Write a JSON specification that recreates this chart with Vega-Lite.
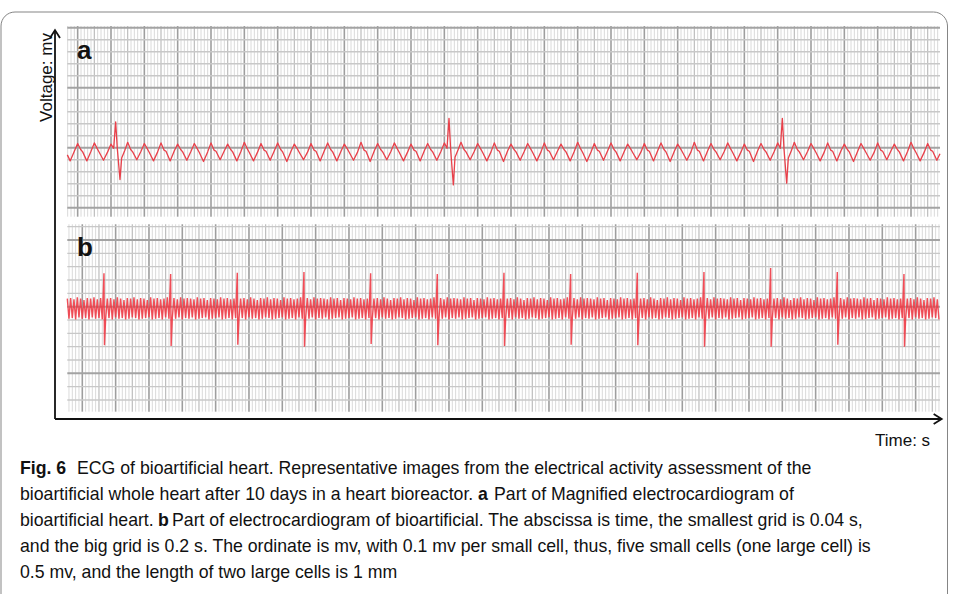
{
  "$schema": "https://vega.github.io/schema/vega-lite/v6.json",
  "width": 956,
  "height": 594,
  "autosize": {"type": "none"},
  "padding": 0,
  "background": "white",
  "config": {"view": {"stroke": null}, "text": {"font": "Liberation Sans", "color": "#111111"}},
  "datasets": {
    "vgrid": [-80,-60,-40,-20,0,20,40,60,80,100,120,140,160,180,200,220,240,260,280,300,320,340,360,380,400,420,440,460,480,500,520,540,560,580,600,620,640,660,680,700,720,740,760,780,800,820,840,860,880,900,920,940,960,980,1000,1020,1040,1060,1080,1100,1120,1140,1160,1180,1200,1220,1240,1260,1280,1300,1320,1340,1360,1380,1400,1420,1440,1460,1480,1500,1520,1540,1560,1580,1600,1620,1640,1660,1680,1700,1720,1740,1760,1780,1800,1820,1840,1860,1880,1900,1920,1940,1960,1980,2000,2020,2040,2060,2080,2100,2120,2140,2160,2180,2200,2220,2240,2260,2280,2300,2320,2340,2360,2380,2400,2420,2440,2460,2480,2500,2520,2540,2560,2580,2600,2620,2640,2660,2680,2700,2720,2740,2760,2780,2800,2820,2840,2860,2880,2900,2920,2940,2960,2980,3000,3020,3040,3060,3080,3100,3120,3140,3160,3180,3200,3220,3240,3260,3280,3300,3320,3340,3360,3380,3400,3420,3440,3460,3480,3500,3520,3540,3560,3580,3600,3620,3640,3660,3680,3700,3720,3740,3760,3780,3800,3820,3840,3860,3880,3900,3920,3940,3960,3980,4000,4020,4040,4060,4080,4100,4120,4140,4160,4180,4200,4220,4240,4260,4280,4300,4320,4340,4360,4380,4400,4420,4440,4460,4480,4500,4520,4540,4560,4580,4600,4620,4640,4660,4680,4700,4720,4740,4760,4780,4800,4820,4840,4860,4880,4900,4920,4940,4960,4980,5000,5020,5040,5060,5080,5100,5120,5140,5160],
    "hgridA": [-0.5,-0.4,-0.3,-0.2,-0.1,0,0.1,0.2,0.3,0.4,0.5,0.6,0.7,0.8,0.9,1.0],
    "hgridB": [-0.7,-0.6,-0.5,-0.4,-0.3,-0.2,-0.1,0,0.1,0.2,0.3,0.4,0.5,0.6],
    "ecgA": [
      {"t":-62,"v":-0.06},{"t":-45,"v":-0.11},{"t":-20,"v":-0.03},
      {"t":0,"v":0.035},{"t":18,"v":-0.015},{"t":30,"v":-0.035},{"t":55,"v":-0.11},{"t":80,"v":-0.03},
      {"t":100,"v":0.04},{"t":118,"v":-0.01},{"t":130,"v":-0.04},{"t":155,"v":-0.105},{"t":180,"v":-0.035},
      {"t":200,"v":0.03},{"t":216,"v":-0.005},{"t":228,"v":0.215},{"t":238,"v":-0.01},{"t":254,"v":-0.265},{"t":264,"v":-0.085},{"t":282,"v":-0.025},
      {"t":300,"v":0.045},{"t":318,"v":-0.015},{"t":330,"v":-0.035},{"t":355,"v":-0.1},{"t":380,"v":-0.03},
      {"t":400,"v":0.035},{"t":418,"v":-0.01},{"t":430,"v":-0.04},{"t":455,"v":-0.11},{"t":480,"v":-0.035},
      {"t":500,"v":0.04},{"t":518,"v":-0.02},{"t":530,"v":-0.03},{"t":555,"v":-0.11},{"t":580,"v":-0.025},
      {"t":600,"v":0.03},{"t":618,"v":-0.015},{"t":630,"v":-0.035},{"t":655,"v":-0.105},{"t":680,"v":-0.03},
      {"t":700,"v":0.035},{"t":718,"v":-0.01},{"t":730,"v":-0.04},{"t":755,"v":-0.115},{"t":780,"v":-0.035},
      {"t":800,"v":0.04},{"t":818,"v":-0.02},{"t":830,"v":-0.03},{"t":855,"v":-0.1},{"t":880,"v":-0.025},
      {"t":900,"v":0.03},{"t":918,"v":-0.015},{"t":930,"v":-0.035},{"t":955,"v":-0.11},{"t":980,"v":-0.03},
      {"t":1000,"v":0.045},{"t":1018,"v":-0.01},{"t":1030,"v":-0.04},{"t":1055,"v":-0.11},{"t":1080,"v":-0.035},
      {"t":1100,"v":0.035},{"t":1118,"v":-0.02},{"t":1130,"v":-0.03},{"t":1155,"v":-0.105},{"t":1180,"v":-0.025},
      {"t":1200,"v":0.04},{"t":1218,"v":-0.015},{"t":1230,"v":-0.035},{"t":1255,"v":-0.115},{"t":1280,"v":-0.03},
      {"t":1300,"v":0.03},{"t":1318,"v":-0.01},{"t":1330,"v":-0.04},{"t":1355,"v":-0.1},{"t":1380,"v":-0.035},
      {"t":1400,"v":0.035},{"t":1418,"v":-0.02},{"t":1430,"v":-0.03},{"t":1455,"v":-0.11},{"t":1480,"v":-0.025},
      {"t":1500,"v":0.04},{"t":1518,"v":-0.015},{"t":1530,"v":-0.035},{"t":1555,"v":-0.11},{"t":1580,"v":-0.03},
      {"t":1600,"v":0.03},{"t":1618,"v":-0.01},{"t":1630,"v":-0.04},{"t":1655,"v":-0.105},{"t":1680,"v":-0.035},
      {"t":1700,"v":0.045},{"t":1718,"v":-0.02},{"t":1730,"v":-0.03},{"t":1755,"v":-0.115},{"t":1780,"v":-0.025},
      {"t":1800,"v":0.035},{"t":1818,"v":-0.015},{"t":1830,"v":-0.035},{"t":1855,"v":-0.1},{"t":1880,"v":-0.03},
      {"t":1900,"v":0.04},{"t":1918,"v":-0.01},{"t":1930,"v":-0.04},{"t":1955,"v":-0.11},{"t":1980,"v":-0.035},
      {"t":2000,"v":0.03},{"t":2018,"v":-0.02},{"t":2030,"v":-0.03},{"t":2055,"v":-0.11},{"t":2080,"v":-0.025},
      {"t":2100,"v":0.035},{"t":2118,"v":-0.015},{"t":2130,"v":-0.035},{"t":2155,"v":-0.105},{"t":2180,"v":-0.03},
      {"t":2200,"v":0.04},{"t":2216,"v":-0.005},{"t":2228,"v":0.245},{"t":2238,"v":-0.015},{"t":2254,"v":-0.31},{"t":2264,"v":-0.08},{"t":2282,"v":-0.02},
      {"t":2300,"v":0.045},{"t":2318,"v":-0.015},{"t":2330,"v":-0.035},{"t":2355,"v":-0.1},{"t":2380,"v":-0.03},
      {"t":2400,"v":0.035},{"t":2418,"v":-0.01},{"t":2430,"v":-0.04},{"t":2455,"v":-0.11},{"t":2480,"v":-0.035},
      {"t":2500,"v":0.04},{"t":2518,"v":-0.02},{"t":2530,"v":-0.03},{"t":2555,"v":-0.115},{"t":2580,"v":-0.025},
      {"t":2600,"v":0.03},{"t":2618,"v":-0.015},{"t":2630,"v":-0.035},{"t":2655,"v":-0.105},{"t":2680,"v":-0.03},
      {"t":2700,"v":0.035},{"t":2718,"v":-0.01},{"t":2730,"v":-0.04},{"t":2755,"v":-0.11},{"t":2780,"v":-0.035},
      {"t":2800,"v":0.04},{"t":2818,"v":-0.02},{"t":2830,"v":-0.03},{"t":2855,"v":-0.1},{"t":2880,"v":-0.025},
      {"t":2900,"v":0.03},{"t":2918,"v":-0.015},{"t":2930,"v":-0.035},{"t":2955,"v":-0.11},{"t":2980,"v":-0.03},
      {"t":3000,"v":0.045},{"t":3018,"v":-0.01},{"t":3030,"v":-0.04},{"t":3055,"v":-0.115},{"t":3080,"v":-0.035},
      {"t":3100,"v":0.035},{"t":3118,"v":-0.02},{"t":3130,"v":-0.03},{"t":3155,"v":-0.105},{"t":3180,"v":-0.025},
      {"t":3200,"v":0.04},{"t":3218,"v":-0.015},{"t":3230,"v":-0.035},{"t":3255,"v":-0.11},{"t":3280,"v":-0.03},
      {"t":3300,"v":0.03},{"t":3318,"v":-0.01},{"t":3330,"v":-0.04},{"t":3355,"v":-0.1},{"t":3380,"v":-0.035},
      {"t":3400,"v":0.035},{"t":3418,"v":-0.02},{"t":3430,"v":-0.03},{"t":3455,"v":-0.11},{"t":3480,"v":-0.025},
      {"t":3500,"v":0.04},{"t":3518,"v":-0.015},{"t":3530,"v":-0.035},{"t":3555,"v":-0.115},{"t":3580,"v":-0.03},
      {"t":3600,"v":0.03},{"t":3618,"v":-0.01},{"t":3630,"v":-0.04},{"t":3655,"v":-0.105},{"t":3680,"v":-0.035},
      {"t":3700,"v":0.045},{"t":3718,"v":-0.02},{"t":3730,"v":-0.03},{"t":3755,"v":-0.11},{"t":3780,"v":-0.025},
      {"t":3800,"v":0.035},{"t":3818,"v":-0.015},{"t":3830,"v":-0.035},{"t":3855,"v":-0.1},{"t":3880,"v":-0.03},
      {"t":3900,"v":0.04},{"t":3918,"v":-0.01},{"t":3930,"v":-0.04},{"t":3955,"v":-0.11},{"t":3980,"v":-0.035},
      {"t":4000,"v":0.03},{"t":4018,"v":-0.02},{"t":4030,"v":-0.03},{"t":4055,"v":-0.115},{"t":4080,"v":-0.025},
      {"t":4100,"v":0.035},{"t":4118,"v":-0.015},{"t":4130,"v":-0.035},{"t":4155,"v":-0.105},{"t":4180,"v":-0.03},
      {"t":4200,"v":0.04},{"t":4216,"v":-0.005},{"t":4228,"v":0.245},{"t":4238,"v":-0.01},{"t":4254,"v":-0.295},{"t":4264,"v":-0.085},{"t":4282,"v":-0.025},
      {"t":4300,"v":0.045},{"t":4318,"v":-0.015},{"t":4330,"v":-0.035},{"t":4355,"v":-0.1},{"t":4380,"v":-0.03},
      {"t":4400,"v":0.035},{"t":4418,"v":-0.01},{"t":4430,"v":-0.04},{"t":4455,"v":-0.11},{"t":4480,"v":-0.035},
      {"t":4500,"v":0.04},{"t":4518,"v":-0.02},{"t":4530,"v":-0.03},{"t":4555,"v":-0.11},{"t":4580,"v":-0.025},
      {"t":4600,"v":0.03},{"t":4618,"v":-0.015},{"t":4630,"v":-0.035},{"t":4655,"v":-0.115},{"t":4680,"v":-0.03},
      {"t":4700,"v":0.035},{"t":4718,"v":-0.01},{"t":4730,"v":-0.04},{"t":4755,"v":-0.105},{"t":4780,"v":-0.035},
      {"t":4800,"v":0.04},{"t":4818,"v":-0.02},{"t":4830,"v":-0.03},{"t":4855,"v":-0.1},{"t":4880,"v":-0.025},
      {"t":4900,"v":0.03},{"t":4918,"v":-0.015},{"t":4930,"v":-0.035},{"t":4955,"v":-0.11},{"t":4980,"v":-0.03},
      {"t":5000,"v":0.045},{"t":5018,"v":-0.01},{"t":5030,"v":-0.04},{"t":5055,"v":-0.11},{"t":5080,"v":-0.035},
      {"t":5100,"v":0.035},{"t":5118,"v":-0.02},{"t":5130,"v":-0.03},{"t":5155,"v":-0.105},{"t":5174,"v":-0.05}
    ],
    "ecgB": [
      {"t":-90,"v":0.06},{"t":-80,"v":-0.09},{"t":-70,"v":0.065},{"t":-60,"v":-0.085},{"t":-50,"v":0.055},{"t":-40,"v":-0.095},{"t":-30,"v":0.07},{"t":-20,"v":-0.08},{"t":-10,"v":0.06},{"t":0,"v":-0.09},{"t":10,"v":0.05},{"t":20,"v":-0.085},{"t":30,"v":0.065},{"t":40,"v":-0.095},{"t":50,"v":0.06},{"t":60,"v":-0.08},{"t":70,"v":0.07},{"t":80,"v":-0.09},{"t":90,"v":0.055},{"t":100,"v":-0.085},{"t":110,"v":0.065},{"t":120,"v":-0.095},
      {"t":130,"v":0.25},{"t":133,"v":-0.29},
      {"t":140,"v":-0.09},{"t":150,"v":0.06},{"t":160,"v":-0.085},{"t":170,"v":0.065},{"t":180,"v":-0.095},{"t":190,"v":0.055},{"t":200,"v":-0.08},{"t":210,"v":0.07},{"t":220,"v":-0.09},{"t":230,"v":0.06},{"t":240,"v":-0.085},{"t":250,"v":0.05},{"t":260,"v":-0.095},{"t":270,"v":0.065},{"t":280,"v":-0.09},{"t":290,"v":0.06},{"t":300,"v":-0.08},{"t":310,"v":0.07},{"t":320,"v":-0.085},{"t":330,"v":0.055},{"t":340,"v":-0.095},{"t":350,"v":0.065},{"t":360,"v":-0.09},{"t":370,"v":0.06},{"t":380,"v":-0.085},{"t":390,"v":0.05},{"t":400,"v":-0.08},{"t":410,"v":0.07},{"t":420,"v":-0.095},{"t":430,"v":0.06},{"t":440,"v":-0.09},{"t":450,"v":0.065},{"t":460,"v":-0.085},{"t":470,"v":0.055},{"t":480,"v":-0.095},{"t":490,"v":0.06},{"t":500,"v":-0.08},{"t":510,"v":0.07},{"t":520,"v":-0.09},
      {"t":530,"v":0.245},{"t":533,"v":-0.295},
      {"t":540,"v":-0.085},{"t":550,"v":0.065},{"t":560,"v":-0.09},{"t":570,"v":0.055},{"t":580,"v":-0.08},{"t":590,"v":0.07},{"t":600,"v":-0.095},{"t":610,"v":0.06},{"t":620,"v":-0.085},{"t":630,"v":0.065},{"t":640,"v":-0.09},{"t":650,"v":0.06},{"t":660,"v":-0.08},{"t":670,"v":0.055},{"t":680,"v":-0.095},{"t":690,"v":0.07},{"t":700,"v":-0.09},{"t":710,"v":0.06},{"t":720,"v":-0.085},{"t":730,"v":0.065},{"t":740,"v":-0.08},{"t":750,"v":0.05},{"t":760,"v":-0.095},{"t":770,"v":0.065},{"t":780,"v":-0.09},{"t":790,"v":0.06},{"t":800,"v":-0.085},{"t":810,"v":0.055},{"t":820,"v":-0.08},{"t":830,"v":0.07},{"t":840,"v":-0.095},{"t":850,"v":0.06},{"t":860,"v":-0.09},{"t":870,"v":0.065},{"t":880,"v":-0.085},{"t":890,"v":0.055},{"t":900,"v":-0.095},{"t":910,"v":0.06},{"t":920,"v":-0.085},
      {"t":930,"v":0.255},{"t":933,"v":-0.285},
      {"t":940,"v":-0.09},{"t":950,"v":0.06},{"t":960,"v":-0.085},{"t":970,"v":0.065},{"t":980,"v":-0.095},{"t":990,"v":0.055},{"t":1000,"v":-0.08},{"t":1010,"v":0.07},{"t":1020,"v":-0.09},{"t":1030,"v":0.06},{"t":1040,"v":-0.085},{"t":1050,"v":0.05},{"t":1060,"v":-0.095},{"t":1070,"v":0.065},{"t":1080,"v":-0.09},{"t":1090,"v":0.06},{"t":1100,"v":-0.08},{"t":1110,"v":0.07},{"t":1120,"v":-0.085},{"t":1130,"v":0.055},{"t":1140,"v":-0.095},{"t":1150,"v":0.065},{"t":1160,"v":-0.09},{"t":1170,"v":0.06},{"t":1180,"v":-0.085},{"t":1190,"v":0.05},{"t":1200,"v":-0.08},{"t":1210,"v":0.07},{"t":1220,"v":-0.095},{"t":1230,"v":0.06},{"t":1240,"v":-0.09},{"t":1250,"v":0.065},{"t":1260,"v":-0.085},{"t":1270,"v":0.055},{"t":1280,"v":-0.095},{"t":1290,"v":0.06},{"t":1300,"v":-0.08},{"t":1310,"v":0.07},{"t":1320,"v":-0.09},
      {"t":1330,"v":0.26},{"t":1333,"v":-0.3},
      {"t":1340,"v":-0.085},{"t":1350,"v":0.065},{"t":1360,"v":-0.09},{"t":1370,"v":0.055},{"t":1380,"v":-0.08},{"t":1390,"v":0.07},{"t":1400,"v":-0.095},{"t":1410,"v":0.06},{"t":1420,"v":-0.085},{"t":1430,"v":0.065},{"t":1440,"v":-0.09},{"t":1450,"v":0.06},{"t":1460,"v":-0.08},{"t":1470,"v":0.055},{"t":1480,"v":-0.095},{"t":1490,"v":0.07},{"t":1500,"v":-0.09},{"t":1510,"v":0.06},{"t":1520,"v":-0.085},{"t":1530,"v":0.065},{"t":1540,"v":-0.08},{"t":1550,"v":0.05},{"t":1560,"v":-0.095},{"t":1570,"v":0.065},{"t":1580,"v":-0.09},{"t":1590,"v":0.06},{"t":1600,"v":-0.085},{"t":1610,"v":0.055},{"t":1620,"v":-0.08},{"t":1630,"v":0.07},{"t":1640,"v":-0.095},{"t":1650,"v":0.06},{"t":1660,"v":-0.09},{"t":1670,"v":0.065},{"t":1680,"v":-0.085},{"t":1690,"v":0.055},{"t":1700,"v":-0.095},{"t":1710,"v":0.06},{"t":1720,"v":-0.085},
      {"t":1730,"v":0.25},{"t":1733,"v":-0.28},
      {"t":1740,"v":-0.09},{"t":1750,"v":0.06},{"t":1760,"v":-0.085},{"t":1770,"v":0.065},{"t":1780,"v":-0.095},{"t":1790,"v":0.055},{"t":1800,"v":-0.08},{"t":1810,"v":0.07},{"t":1820,"v":-0.09},{"t":1830,"v":0.06},{"t":1840,"v":-0.085},{"t":1850,"v":0.05},{"t":1860,"v":-0.095},{"t":1870,"v":0.065},{"t":1880,"v":-0.09},{"t":1890,"v":0.06},{"t":1900,"v":-0.08},{"t":1910,"v":0.07},{"t":1920,"v":-0.085},{"t":1930,"v":0.055},{"t":1940,"v":-0.095},{"t":1950,"v":0.065},{"t":1960,"v":-0.09},{"t":1970,"v":0.06},{"t":1980,"v":-0.085},{"t":1990,"v":0.05},{"t":2000,"v":-0.08},{"t":2010,"v":0.07},{"t":2020,"v":-0.095},{"t":2030,"v":0.06},{"t":2040,"v":-0.09},{"t":2050,"v":0.065},{"t":2060,"v":-0.085},{"t":2070,"v":0.055},{"t":2080,"v":-0.095},{"t":2090,"v":0.06},{"t":2100,"v":-0.08},{"t":2110,"v":0.07},{"t":2120,"v":-0.09},
      {"t":2130,"v":0.245},{"t":2133,"v":-0.29},
      {"t":2140,"v":-0.085},{"t":2150,"v":0.065},{"t":2160,"v":-0.09},{"t":2170,"v":0.055},{"t":2180,"v":-0.08},{"t":2190,"v":0.07},{"t":2200,"v":-0.095},{"t":2210,"v":0.06},{"t":2220,"v":-0.085},{"t":2230,"v":0.065},{"t":2240,"v":-0.09},{"t":2250,"v":0.06},{"t":2260,"v":-0.08},{"t":2270,"v":0.055},{"t":2280,"v":-0.095},{"t":2290,"v":0.07},{"t":2300,"v":-0.09},{"t":2310,"v":0.06},{"t":2320,"v":-0.085},{"t":2330,"v":0.065},{"t":2340,"v":-0.08},{"t":2350,"v":0.05},{"t":2360,"v":-0.095},{"t":2370,"v":0.065},{"t":2380,"v":-0.09},{"t":2390,"v":0.06},{"t":2400,"v":-0.085},{"t":2410,"v":0.055},{"t":2420,"v":-0.08},{"t":2430,"v":0.07},{"t":2440,"v":-0.095},{"t":2450,"v":0.06},{"t":2460,"v":-0.09},{"t":2470,"v":0.065},{"t":2480,"v":-0.085},{"t":2490,"v":0.055},{"t":2500,"v":-0.095},{"t":2510,"v":0.06},{"t":2520,"v":-0.085},
      {"t":2530,"v":0.255},{"t":2533,"v":-0.295},
      {"t":2540,"v":-0.09},{"t":2550,"v":0.06},{"t":2560,"v":-0.085},{"t":2570,"v":0.065},{"t":2580,"v":-0.095},{"t":2590,"v":0.055},{"t":2600,"v":-0.08},{"t":2610,"v":0.07},{"t":2620,"v":-0.09},{"t":2630,"v":0.06},{"t":2640,"v":-0.085},{"t":2650,"v":0.05},{"t":2660,"v":-0.095},{"t":2670,"v":0.065},{"t":2680,"v":-0.09},{"t":2690,"v":0.06},{"t":2700,"v":-0.08},{"t":2710,"v":0.07},{"t":2720,"v":-0.085},{"t":2730,"v":0.055},{"t":2740,"v":-0.095},{"t":2750,"v":0.065},{"t":2760,"v":-0.09},{"t":2770,"v":0.06},{"t":2780,"v":-0.085},{"t":2790,"v":0.05},{"t":2800,"v":-0.08},{"t":2810,"v":0.07},{"t":2820,"v":-0.095},{"t":2830,"v":0.06},{"t":2840,"v":-0.09},{"t":2850,"v":0.065},{"t":2860,"v":-0.085},{"t":2870,"v":0.055},{"t":2880,"v":-0.095},{"t":2890,"v":0.06},{"t":2900,"v":-0.08},{"t":2910,"v":0.07},{"t":2920,"v":-0.09},
      {"t":2930,"v":0.245},{"t":2933,"v":-0.285},
      {"t":2940,"v":-0.085},{"t":2950,"v":0.065},{"t":2960,"v":-0.09},{"t":2970,"v":0.055},{"t":2980,"v":-0.08},{"t":2990,"v":0.07},{"t":3000,"v":-0.095},{"t":3010,"v":0.06},{"t":3020,"v":-0.085},{"t":3030,"v":0.065},{"t":3040,"v":-0.09},{"t":3050,"v":0.06},{"t":3060,"v":-0.08},{"t":3070,"v":0.055},{"t":3080,"v":-0.095},{"t":3090,"v":0.07},{"t":3100,"v":-0.09},{"t":3110,"v":0.06},{"t":3120,"v":-0.085},{"t":3130,"v":0.065},{"t":3140,"v":-0.08},{"t":3150,"v":0.05},{"t":3160,"v":-0.095},{"t":3170,"v":0.065},{"t":3180,"v":-0.09},{"t":3190,"v":0.06},{"t":3200,"v":-0.085},{"t":3210,"v":0.055},{"t":3220,"v":-0.08},{"t":3230,"v":0.07},{"t":3240,"v":-0.095},{"t":3250,"v":0.06},{"t":3260,"v":-0.09},{"t":3270,"v":0.065},{"t":3280,"v":-0.085},{"t":3290,"v":0.055},{"t":3300,"v":-0.095},{"t":3310,"v":0.06},{"t":3320,"v":-0.085},
      {"t":3330,"v":0.255},{"t":3333,"v":-0.29},
      {"t":3340,"v":-0.09},{"t":3350,"v":0.06},{"t":3360,"v":-0.085},{"t":3370,"v":0.065},{"t":3380,"v":-0.095},{"t":3390,"v":0.055},{"t":3400,"v":-0.08},{"t":3410,"v":0.07},{"t":3420,"v":-0.09},{"t":3430,"v":0.06},{"t":3440,"v":-0.085},{"t":3450,"v":0.05},{"t":3460,"v":-0.095},{"t":3470,"v":0.065},{"t":3480,"v":-0.09},{"t":3490,"v":0.06},{"t":3500,"v":-0.08},{"t":3510,"v":0.07},{"t":3520,"v":-0.085},{"t":3530,"v":0.055},{"t":3540,"v":-0.095},{"t":3550,"v":0.065},{"t":3560,"v":-0.09},{"t":3570,"v":0.06},{"t":3580,"v":-0.085},{"t":3590,"v":0.05},{"t":3600,"v":-0.08},{"t":3610,"v":0.07},{"t":3620,"v":-0.095},{"t":3630,"v":0.06},{"t":3640,"v":-0.09},{"t":3650,"v":0.065},{"t":3660,"v":-0.085},{"t":3670,"v":0.055},{"t":3680,"v":-0.095},{"t":3690,"v":0.06},{"t":3700,"v":-0.08},{"t":3710,"v":0.07},{"t":3720,"v":-0.09},
      {"t":3730,"v":0.26},{"t":3733,"v":-0.3},
      {"t":3740,"v":-0.085},{"t":3750,"v":0.065},{"t":3760,"v":-0.09},{"t":3770,"v":0.055},{"t":3780,"v":-0.08},{"t":3790,"v":0.07},{"t":3800,"v":-0.095},{"t":3810,"v":0.06},{"t":3820,"v":-0.085},{"t":3830,"v":0.065},{"t":3840,"v":-0.09},{"t":3850,"v":0.06},{"t":3860,"v":-0.08},{"t":3870,"v":0.055},{"t":3880,"v":-0.095},{"t":3890,"v":0.07},{"t":3900,"v":-0.09},{"t":3910,"v":0.06},{"t":3920,"v":-0.085},{"t":3930,"v":0.065},{"t":3940,"v":-0.08},{"t":3950,"v":0.05},{"t":3960,"v":-0.095},{"t":3970,"v":0.065},{"t":3980,"v":-0.09},{"t":3990,"v":0.06},{"t":4000,"v":-0.085},{"t":4010,"v":0.055},{"t":4020,"v":-0.08},{"t":4030,"v":0.07},{"t":4040,"v":-0.095},{"t":4050,"v":0.06},{"t":4060,"v":-0.09},{"t":4070,"v":0.065},{"t":4080,"v":-0.085},{"t":4090,"v":0.055},{"t":4100,"v":-0.095},{"t":4110,"v":0.06},{"t":4120,"v":-0.085},
      {"t":4130,"v":0.29},{"t":4133,"v":-0.3},
      {"t":4140,"v":-0.09},{"t":4150,"v":0.06},{"t":4160,"v":-0.085},{"t":4170,"v":0.065},{"t":4180,"v":-0.095},{"t":4190,"v":0.055},{"t":4200,"v":-0.08},{"t":4210,"v":0.07},{"t":4220,"v":-0.09},{"t":4230,"v":0.06},{"t":4240,"v":-0.085},{"t":4250,"v":0.05},{"t":4260,"v":-0.095},{"t":4270,"v":0.065},{"t":4280,"v":-0.09},{"t":4290,"v":0.06},{"t":4300,"v":-0.08},{"t":4310,"v":0.07},{"t":4320,"v":-0.085},{"t":4330,"v":0.055},{"t":4340,"v":-0.095},{"t":4350,"v":0.065},{"t":4360,"v":-0.09},{"t":4370,"v":0.06},{"t":4380,"v":-0.085},{"t":4390,"v":0.05},{"t":4400,"v":-0.08},{"t":4410,"v":0.07},{"t":4420,"v":-0.095},{"t":4430,"v":0.06},{"t":4440,"v":-0.09},{"t":4450,"v":0.065},{"t":4460,"v":-0.085},{"t":4470,"v":0.055},{"t":4480,"v":-0.095},{"t":4490,"v":0.06},{"t":4500,"v":-0.08},{"t":4510,"v":0.07},{"t":4520,"v":-0.09},
      {"t":4530,"v":0.26},{"t":4533,"v":-0.285},
      {"t":4540,"v":-0.085},{"t":4550,"v":0.065},{"t":4560,"v":-0.09},{"t":4570,"v":0.055},{"t":4580,"v":-0.08},{"t":4590,"v":0.07},{"t":4600,"v":-0.095},{"t":4610,"v":0.06},{"t":4620,"v":-0.085},{"t":4630,"v":0.065},{"t":4640,"v":-0.09},{"t":4650,"v":0.06},{"t":4660,"v":-0.08},{"t":4670,"v":0.055},{"t":4680,"v":-0.095},{"t":4690,"v":0.07},{"t":4700,"v":-0.09},{"t":4710,"v":0.06},{"t":4720,"v":-0.085},{"t":4730,"v":0.065},{"t":4740,"v":-0.08},{"t":4750,"v":0.05},{"t":4760,"v":-0.095},{"t":4770,"v":0.065},{"t":4780,"v":-0.09},{"t":4790,"v":0.06},{"t":4800,"v":-0.085},{"t":4810,"v":0.055},{"t":4820,"v":-0.08},{"t":4830,"v":0.07},{"t":4840,"v":-0.095},{"t":4850,"v":0.06},{"t":4860,"v":-0.09},{"t":4870,"v":0.065},{"t":4880,"v":-0.085},{"t":4890,"v":0.055},{"t":4900,"v":-0.095},{"t":4910,"v":0.06},{"t":4920,"v":-0.085},
      {"t":4930,"v":0.245},{"t":4933,"v":-0.3},
      {"t":4940,"v":-0.09},{"t":4950,"v":0.06},{"t":4960,"v":-0.085},{"t":4970,"v":0.065},{"t":4980,"v":-0.095},{"t":4990,"v":0.055},{"t":5000,"v":-0.08},{"t":5010,"v":0.07},{"t":5020,"v":-0.09},{"t":5030,"v":0.06},{"t":5040,"v":-0.085},{"t":5050,"v":0.05},{"t":5060,"v":-0.095},{"t":5070,"v":0.065},{"t":5080,"v":-0.09},{"t":5090,"v":0.06},{"t":5100,"v":-0.08},{"t":5110,"v":0.07},{"t":5120,"v":-0.085},{"t":5130,"v":0.055},{"t":5140,"v":-0.095}
    ]
  },
  "layer": [
    {
      "layer": [
        {
          "data": {"name": "vgrid"},
          "transform": [{"filter": "datum.data >= -62 && datum.data <= 5174"}],
          "mark": {"type": "rule"},
          "encoding": {
            "x": {"field": "data", "type": "quantitative", "scale": {"domain": [-466, 5270], "nice": false, "zero": false}, "axis": null},
            "y": {"datum": -0.575, "type": "quantitative", "scale": {"domain": [-3.7192, 1.2308], "nice": false, "zero": false}, "axis": null},
            "y2": {"datum": 1.014},
            "color": {"condition": [{"test": "datum.data % 200 == 0", "value": "#9e9e9e"}, {"test": "datum.data % 100 == 0", "value": "#bdbdbd"}], "value": "#dadada"},
            "strokeWidth": {"condition": [{"test": "datum.data % 200 == 0", "value": 1.6}, {"test": "datum.data % 100 == 0", "value": 1.2}], "value": 1}
          }
        },
        {
          "data": {"name": "hgridA"},
          "mark": {"type": "rule"},
          "encoding": {
            "y": {"field": "data", "type": "quantitative", "scale": {"domain": [-3.7192, 1.2308], "nice": false, "zero": false}, "axis": null},
            "x": {"datum": -62, "type": "quantitative", "scale": {"domain": [-466, 5270], "nice": false, "zero": false}, "axis": null},
            "x2": {"datum": 5174},
            "color": {"condition": {"test": "abs(datum.data*2 - round(datum.data*2)) < 0.01", "value": "#a3a3a3"}, "value": "#c8c8c8"},
            "strokeWidth": {"condition": {"test": "abs(datum.data*2 - round(datum.data*2)) < 0.01", "value": 2}, "value": 1.4}
          }
        },
        {
          "data": {"name": "ecgA"},
          "mark": {"type": "line", "color": "#e8404a", "strokeWidth": 1.3, "strokeJoin": "round"},
          "encoding": {
            "x": {"field": "t", "type": "quantitative", "scale": {"domain": [-466, 5270], "nice": false, "zero": false}, "axis": null},
            "y": {"field": "v", "type": "quantitative", "scale": {"domain": [-3.7192, 1.2308], "nice": false, "zero": false}, "axis": null}
          }
        },
        {
          "data": {"values": [{}]},
          "mark": {"type": "rect", "filled": false, "stroke": "#858585", "strokeWidth": 1, "cornerRadius": 14},
          "encoding": {
            "x": {"datum": -460, "type": "quantitative", "scale": {"domain": [-466, 5270], "nice": false, "zero": false}, "axis": null},
            "x2": {"datum": 5219},
            "y": {"datum": 1.1308, "type": "quantitative", "scale": {"domain": [-3.7192, 1.2308], "nice": false, "zero": false}, "axis": null},
            "y2": {"datum": -3.94}
          }
        },
        {
          "data": {"values": [{}]},
          "mark": {"type": "rule", "color": "#111111", "strokeWidth": 1.8},
          "encoding": {
            "x": {"datum": -136, "type": "quantitative", "scale": {"domain": [-466, 5270], "nice": false, "zero": false}, "axis": null},
            "y": {"datum": -2.2608, "type": "quantitative", "scale": {"domain": [-3.7192, 1.2308], "nice": false, "zero": false}, "axis": null},
            "y2": {"datum": 0.98}
          }
        },
        {
          "data": {"values": [{}]},
          "mark": {"type": "rule", "color": "#111111", "strokeWidth": 1.8},
          "encoding": {
            "x": {"datum": -136, "type": "quantitative", "scale": {"domain": [-466, 5270], "nice": false, "zero": false}, "axis": null},
            "x2": {"datum": 5184},
            "y": {"datum": -2.2608, "type": "quantitative", "scale": {"domain": [-3.7192, 1.2308], "nice": false, "zero": false}, "axis": null}
          }
        },
        {
          "data": {"values": [{}]},
          "mark": {"type": "point", "shape": "M-1,1.6L0,0L1,1.6", "filled": false, "stroke": "#111111", "strokeWidth": 1.8, "size": 100, "opacity": 1},
          "encoding": {
            "x": {"datum": -136, "type": "quantitative", "scale": {"domain": [-466, 5270], "nice": false, "zero": false}, "axis": null},
            "y": {"datum": 0.98, "type": "quantitative", "scale": {"domain": [-3.7192, 1.2308], "nice": false, "zero": false}, "axis": null}
          }
        },
        {
          "data": {"values": [{}]},
          "mark": {"type": "point", "shape": "M-1.6,-1L0,0L-1.6,1", "filled": false, "stroke": "#111111", "strokeWidth": 1.8, "size": 100, "opacity": 1},
          "encoding": {
            "x": {"datum": 5184, "type": "quantitative", "scale": {"domain": [-466, 5270], "nice": false, "zero": false}, "axis": null},
            "y": {"datum": -2.2608, "type": "quantitative", "scale": {"domain": [-3.7192, 1.2308], "nice": false, "zero": false}, "axis": null}
          }
        },
        {
          "data": {"values": [{}]},
          "mark": {"type": "text", "text": "Voltage: mv", "angle": 270, "align": "center", "baseline": "alphabetic", "fontSize": 17},
          "encoding": {
            "x": {"datum": -157, "type": "quantitative", "scale": {"domain": [-466, 5270], "nice": false, "zero": false}, "axis": null},
            "y": {"datum": 0.585, "type": "quantitative", "scale": {"domain": [-3.7192, 1.2308], "nice": false, "zero": false}, "axis": null}
          }
        },
        {
          "data": {"values": [{}]},
          "mark": {"type": "text", "text": "Time: s", "align": "left", "baseline": "alphabetic", "fontSize": 17},
          "encoding": {
            "x": {"datum": 4784, "type": "quantitative", "scale": {"domain": [-466, 5270], "nice": false, "zero": false}, "axis": null},
            "y": {"datum": -2.4817, "type": "quantitative", "scale": {"domain": [-3.7192, 1.2308], "nice": false, "zero": false}, "axis": null}
          }
        },
        {
          "data": {"values": [{}]},
          "mark": {"type": "text", "text": "a", "align": "left", "baseline": "alphabetic", "fontSize": 26, "fontWeight": "bold"},
          "encoding": {
            "x": {"datum": -4, "type": "quantitative", "scale": {"domain": [-466, 5270], "nice": false, "zero": false}, "axis": null},
            "y": {"datum": 0.7433, "type": "quantitative", "scale": {"domain": [-3.7192, 1.2308], "nice": false, "zero": false}, "axis": null}
          }
        },
        {
          "data": {"values": [{}]},
          "mark": {"type": "text", "text": "Fig. 6", "align": "left", "baseline": "alphabetic", "fontSize": 17.7, "fontWeight": "bold"},
          "encoding": {
            "x": {"datum": -346, "type": "quantitative", "scale": {"domain": [-466, 5270], "nice": false, "zero": false}, "axis": null},
            "y": {"datum": -2.7192, "type": "quantitative", "scale": {"domain": [-3.7192, 1.2308], "nice": false, "zero": false}, "axis": null}
          }
        },
        {
          "data": {"values": [{}]},
          "mark": {"type": "text", "text": "ECG of bioartificial heart. Representative images from the electrical activity assessment of the", "align": "left", "baseline": "alphabetic", "fontSize": 17.7},
          "encoding": {
            "x": {"datum": -4, "type": "quantitative", "scale": {"domain": [-466, 5270], "nice": false, "zero": false}, "axis": null},
            "y": {"datum": -2.7192, "type": "quantitative", "scale": {"domain": [-3.7192, 1.2308], "nice": false, "zero": false}, "axis": null}
          }
        },
        {
          "data": {"values": [{}]},
          "mark": {"type": "text", "text": "bioartificial whole heart after 10 days in a heart bioreactor.", "align": "left", "baseline": "alphabetic", "fontSize": 17.7},
          "encoding": {
            "x": {"datum": -346, "type": "quantitative", "scale": {"domain": [-466, 5270], "nice": false, "zero": false}, "axis": null},
            "y": {"datum": -2.9358, "type": "quantitative", "scale": {"domain": [-3.7192, 1.2308], "nice": false, "zero": false}, "axis": null}
          }
        },
        {
          "data": {"values": [{}]},
          "mark": {"type": "text", "text": "a", "align": "left", "baseline": "alphabetic", "fontSize": 17.7, "fontWeight": "bold"},
          "encoding": {
            "x": {"datum": 2402, "type": "quantitative", "scale": {"domain": [-466, 5270], "nice": false, "zero": false}, "axis": null},
            "y": {"datum": -2.9358, "type": "quantitative", "scale": {"domain": [-3.7192, 1.2308], "nice": false, "zero": false}, "axis": null}
          }
        },
        {
          "data": {"values": [{}]},
          "mark": {"type": "text", "text": "Part of Magnified electrocardiogram of", "align": "left", "baseline": "alphabetic", "fontSize": 17.7},
          "encoding": {
            "x": {"datum": 2498, "type": "quantitative", "scale": {"domain": [-466, 5270], "nice": false, "zero": false}, "axis": null},
            "y": {"datum": -2.9358, "type": "quantitative", "scale": {"domain": [-3.7192, 1.2308], "nice": false, "zero": false}, "axis": null}
          }
        },
        {
          "data": {"values": [{}]},
          "mark": {"type": "text", "text": "bioartificial heart.", "align": "left", "baseline": "alphabetic", "fontSize": 17.7},
          "encoding": {
            "x": {"datum": -346, "type": "quantitative", "scale": {"domain": [-466, 5270], "nice": false, "zero": false}, "axis": null},
            "y": {"datum": -3.1525, "type": "quantitative", "scale": {"domain": [-3.7192, 1.2308], "nice": false, "zero": false}, "axis": null}
          }
        },
        {
          "data": {"values": [{}]},
          "mark": {"type": "text", "text": "b", "align": "left", "baseline": "alphabetic", "fontSize": 17.7, "fontWeight": "bold"},
          "encoding": {
            "x": {"datum": 482, "type": "quantitative", "scale": {"domain": [-466, 5270], "nice": false, "zero": false}, "axis": null},
            "y": {"datum": -3.1525, "type": "quantitative", "scale": {"domain": [-3.7192, 1.2308], "nice": false, "zero": false}, "axis": null}
          }
        },
        {
          "data": {"values": [{}]},
          "mark": {"type": "text", "text": "Part of electrocardiogram of bioartificial. The abscissa is time, the smallest grid is 0.04 s,", "align": "left", "baseline": "alphabetic", "fontSize": 17.7},
          "encoding": {
            "x": {"datum": 566, "type": "quantitative", "scale": {"domain": [-466, 5270], "nice": false, "zero": false}, "axis": null},
            "y": {"datum": -3.1525, "type": "quantitative", "scale": {"domain": [-3.7192, 1.2308], "nice": false, "zero": false}, "axis": null}
          }
        },
        {
          "data": {"values": [{}]},
          "mark": {"type": "text", "text": "and the big grid is 0.2 s. The ordinate is mv, with 0.1 mv per small cell, thus, five small cells (one large cell) is", "align": "left", "baseline": "alphabetic", "fontSize": 17.7},
          "encoding": {
            "x": {"datum": -346, "type": "quantitative", "scale": {"domain": [-466, 5270], "nice": false, "zero": false}, "axis": null},
            "y": {"datum": -3.3692, "type": "quantitative", "scale": {"domain": [-3.7192, 1.2308], "nice": false, "zero": false}, "axis": null}
          }
        },
        {
          "data": {"values": [{}]},
          "mark": {"type": "text", "text": "0.5 mv, and the length of two large cells is 1 mm", "align": "left", "baseline": "alphabetic", "fontSize": 17.7},
          "encoding": {
            "x": {"datum": -346, "type": "quantitative", "scale": {"domain": [-466, 5270], "nice": false, "zero": false}, "axis": null},
            "y": {"datum": -3.5858, "type": "quantitative", "scale": {"domain": [-3.7192, 1.2308], "nice": false, "zero": false}, "axis": null}
          }
        }
      ]
    },
    {
      "layer": [
        {
          "data": {"name": "vgrid"},
          "transform": [{"filter": "datum.data >= -90 && datum.data <= 5146"}],
          "mark": {"type": "rule"},
          "encoding": {
            "x": {"field": "data", "type": "quantitative", "scale": {"domain": [-493.8, 5242.2], "nice": false, "zero": false}, "axis": null},
            "y": {"datum": -0.7875, "type": "quantitative", "scale": {"domain": [-2.155, 2.3], "nice": false, "zero": false}, "axis": null},
            "y2": {"datum": 0.618},
            "color": {"condition": [{"test": "datum.data % 200 == 0", "value": "#9e9e9e"}, {"test": "datum.data % 100 == 0", "value": "#bdbdbd"}], "value": "#dadada"},
            "strokeWidth": {"condition": [{"test": "datum.data % 200 == 0", "value": 1.6}, {"test": "datum.data % 100 == 0", "value": 1.2}], "value": 1}
          }
        },
        {
          "data": {"name": "hgridB"},
          "mark": {"type": "rule"},
          "encoding": {
            "y": {"field": "data", "type": "quantitative", "scale": {"domain": [-2.155, 2.3], "nice": false, "zero": false}, "axis": null},
            "x": {"datum": -90, "type": "quantitative", "scale": {"domain": [-493.8, 5242.2], "nice": false, "zero": false}, "axis": null},
            "x2": {"datum": 5146},
            "color": {"condition": {"test": "abs(datum.data*2 - round(datum.data*2)) < 0.01", "value": "#a3a3a3"}, "value": "#c8c8c8"},
            "strokeWidth": {"condition": {"test": "abs(datum.data*2 - round(datum.data*2)) < 0.01", "value": 2}, "value": 1.4}
          }
        },
        {
          "data": {"name": "ecgB"},
          "mark": {"type": "line", "color": "#ee3b46", "strokeWidth": 1.4, "opacity": 0.9},
          "encoding": {
            "x": {"field": "t", "type": "quantitative", "scale": {"domain": [-493.8, 5242.2], "nice": false, "zero": false}, "axis": null},
            "y": {"field": "v", "type": "quantitative", "scale": {"domain": [-2.155, 2.3], "nice": false, "zero": false}, "axis": null}
          }
        },
        {
          "data": {"values": [{}]},
          "mark": {"type": "text", "text": "b", "align": "left", "baseline": "alphabetic", "fontSize": 26, "fontWeight": "bold", "font": "Liberation Sans", "color": "#111111"},
          "encoding": {
            "x": {"datum": -32, "type": "quantitative", "scale": {"domain": [-493.8, 5242.2], "nice": false, "zero": false}, "axis": null},
            "y": {"datum": 0.3765, "type": "quantitative", "scale": {"domain": [-2.155, 2.3], "nice": false, "zero": false}, "axis": null}
          }
        }
      ]
    }
  ],
  "resolve": {"scale": {"x": "independent", "y": "independent"}}
}
